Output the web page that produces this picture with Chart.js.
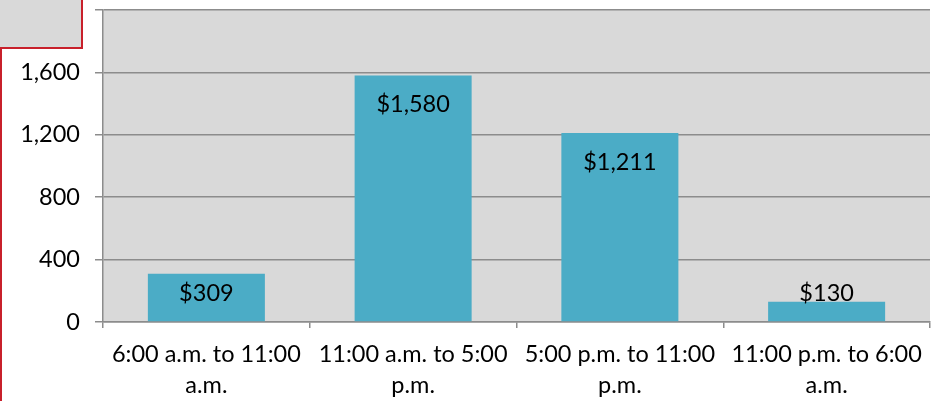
<!DOCTYPE html>
<html lang="en">
<head>
  <meta charset="UTF-8">
  <title>Spending by time of day</title>
  <script src="https://cdn.jsdelivr.net/npm/chart.js"></script>
  <style>
    html, body {
      margin: 0;
      padding: 0;
      background: #ffffff;
    }
    #wrap {
      position: relative;
      width: 948px;
      height: 401px;
    }
  </style>
</head>
<body>
  <div id="wrap">
    <canvas id="grafico" width="948" height="401"></canvas>
  </div>

  <script>
    // dados
    const categorias = [
      ["6:00 a.m. to 11:00", "a.m."],
      ["11:00 a.m. to 5:00", "p.m."],
      ["5:00 p.m. to 11:00", "p.m."],
      ["11:00 p.m. to 6:00", "a.m."]
    ];
    const valores = [309, 1580, 1211, 130];
    const rotulos = ["$309", "$1,580", "$1,211", "$130"];
    const yMin = 0, yMax = 2000, yPasso = 400;

    const fonte = "Lato, 'Open Sans', sans-serif";
    const tamanho = 23.5;

    // fundo cinza da área do gráfico
    const fundo = {
      id: "fundo",
      beforeDraw(chart) {
        const { ctx, chartArea: a } = chart;
        ctx.save();
        ctx.fillStyle = "#d9d9d9";
        ctx.fillRect(a.left, a.top, a.right - a.left, a.bottom - a.top);
        ctx.restore();
      }
    };

    // rótulos de valor nas barras
    const rotulosBarras = {
      id: "rotulosBarras",
      afterDatasetsDraw(chart) {
        const { ctx } = chart;
        const meta = chart.getDatasetMeta(0);
        ctx.save();
        ctx.font = tamanho + "px " + fonte;
        ctx.fillStyle = "#000";
        ctx.textAlign = "center";
        ctx.textBaseline = "middle";
        meta.data.forEach((bar, i) => {
          const y = Math.min(bar.y + 29, bar.base - 28);
          ctx.fillText(rotulos[i], bar.x, y);
        });
        ctx.restore();
      }
    };

    // moldura vermelha no canto
    const moldura = {
      id: "moldura",
      afterDraw(chart) {
        const { ctx } = chart;
        ctx.save();
        ctx.fillStyle = "#d9d9d9";
        ctx.fillRect(0, 0, 82, 48);
        ctx.strokeStyle = "#c8202b";
        ctx.lineWidth = 2;
        ctx.beginPath();
        ctx.moveTo(82, 0);
        ctx.lineTo(82, 48);
        ctx.lineTo(1, 48);
        ctx.lineTo(1, 401);
        ctx.stroke();
        ctx.restore();
      }
    };

    new Chart(document.getElementById("grafico"), {
      type: "bar",
      data: {
        labels: categorias,
        datasets: [{
          data: valores,
          backgroundColor: "#4bacc6",
          borderWidth: 0,
          categoryPercentage: 1,
          barPercentage: 0.566
        }]
      },
      options: {
        responsive: false,
        animation: false,
        layout: { padding: { top: 10, right: 18, left: 0, bottom: 0 } },
        plugins: {
          legend: { display: false },
          tooltip: { enabled: false }
        },
        scales: {
          x: {
            grid: {
              offset: true,
              drawOnChartArea: false,
              drawTicks: true,
              tickLength: 6,
              color: "#8c8c8c",
              lineWidth: 1.5
            },
            border: { color: "#8c8c8c", width: 1.5 },
            ticks: {
              color: "#000",
              font: { family: fonte, size: tamanho, lineHeight: 1.32 },
              padding: 11,
              maxRotation: 0,
              autoSkip: false
            },
            afterFit(scale) {
              scale.height = 79;
              scale.paddingLeft = 0;
              scale.paddingRight = 0;
            }
          },
          y: {
            min: yMin,
            max: yMax,
            grid: {
              color: "#8c8c8c",
              lineWidth: 1.5,
              tickLength: 8
            },
            border: { color: "#8c8c8c", width: 1.5 },
            ticks: {
              stepSize: yPasso,
              color: "#000",
              font: { family: fonte, size: tamanho },
              padding: 15,
              callback: v => v === yMax ? "" : v.toLocaleString("en-US")
            },
            afterFit(scale) {
              scale.width = 103;
              scale.paddingTop = 0;
              scale.paddingBottom = 0;
            }
          }
        }
      },
      plugins: [fundo, rotulosBarras, moldura]
    });
  </script>
</body>
</html>
